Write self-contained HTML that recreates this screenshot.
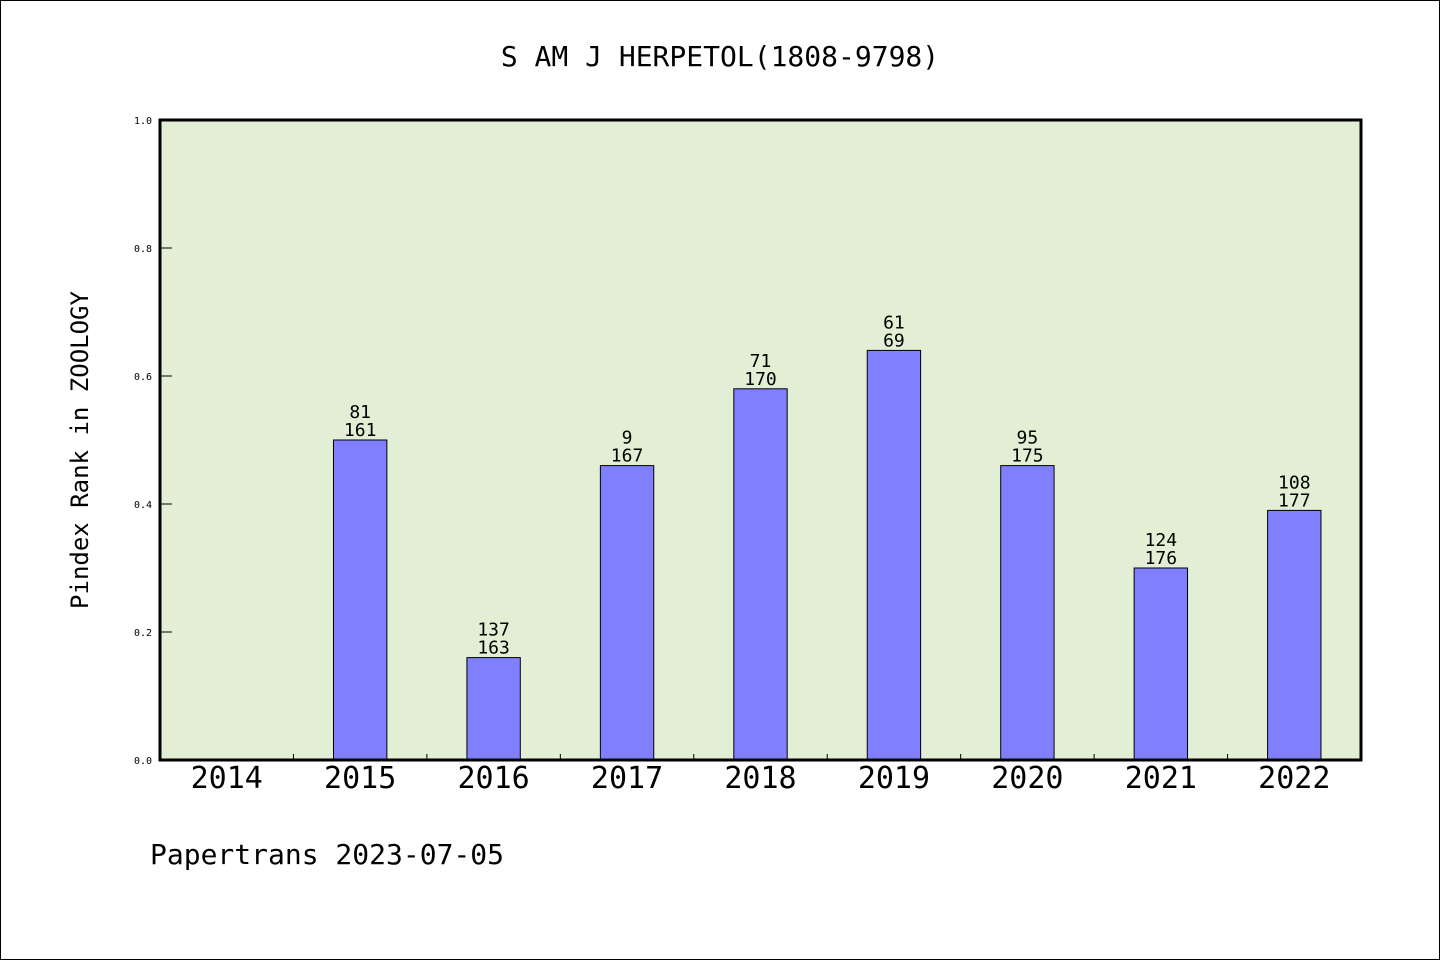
<!DOCTYPE html>
<html><head><meta charset="utf-8"><style>
body{margin:0;background:#fff}
svg{display:block}
text{font-family:"WenQuanYi Zen Hei","DejaVu Sans Mono",monospace}
</style></head><body>
<svg id="c" width="1440" height="960" xmlns="http://www.w3.org/2000/svg">
<rect x="0.5" y="0.5" width="1439" height="959" fill="#fff" stroke="#000"/>
<text x="720" y="66" font-size="28" text-anchor="middle">S AM J HERPETOL(1808-9798)</text>
<rect x="160" y="120" width="1201" height="640" fill="#e2efd5"/>
<g id="bars"></g>
<g id="ticks"></g>
<rect x="160" y="120" width="1201" height="640" fill="none" stroke="#000" stroke-width="3"/>
<text transform="translate(88,450) rotate(-90)" font-size="24" text-anchor="middle">Pindex Rank in ZOOLOGY</text>
<text x="150" y="864" font-size="28">Papertrans 2023-07-05</text>
</svg>
<script>
const categories=["2014","2015","2016","2017","2018","2019","2020","2021","2022"];
const values=[0,0.5,0.16,0.46,0.58,0.64,0.46,0.30,0.39];
const topLabels=["","81","137","9","71","61","95","124","108"];
const bottomLabels=["","161","163","167","170","69","175","176","177"];
const yTicks=[0,0.2,0.4,0.6,0.8,1.0];
const X0=160,X1=1361,Y0=760,Y1=120;
const band=(X1-X0)/categories.length;
const xC=i=>X0+band*(i+0.5);
const y=v=>Y0-(Y0-Y1)*v;
const NS="http://www.w3.org/2000/svg";
const bars=document.getElementById('bars'),ticks=document.getElementById('ticks');
function mk(tag,at,parent,txt){const e=document.createElementNS(NS,tag);for(const k in at)e.setAttribute(k,at[k]);if(txt!==undefined)e.textContent=txt;parent.appendChild(e);return e;}
categories.forEach((c,i)=>{
  const bw=band*0.4;
  if(values[i]>0){
    const r=mk('rect',{x:xC(i)-bw/2,y:y(values[i]),width:bw,height:Y0-y(values[i]),fill:'#8080ff',stroke:'#000','stroke-width':1},bars);
    
    
    const t1=mk('text',{x:xC(i),y:y(values[i])-22,'font-size':18,'text-anchor':'middle'},bars,topLabels[i]);
    
    
    const t2=mk('text',{x:xC(i),y:y(values[i])-4,'font-size':18,'text-anchor':'middle'},bars,bottomLabels[i]);
    
    
  }
  const xl=mk('text',{x:xC(i),y:788,'font-size':30,'text-anchor':'middle'},ticks,c);
  
  
  if(i>0){
    const tk=mk('line',{x1:X0+band*i,x2:X0+band*i,y1:Y0,y2:Y0-6,stroke:'#000'},ticks);
    
    
  }
});
yTicks.forEach(v=>{
  const l=mk('line',{x1:X0,x2:X0+12,y1:y(v),y2:y(v),stroke:'#000'},ticks);
  
  
  const t=mk('text',{x:152,y:y(v)+4,'font-size':10,'text-anchor':'end'},ticks,v.toFixed(1));
  
  
});
</script>
</body></html>
